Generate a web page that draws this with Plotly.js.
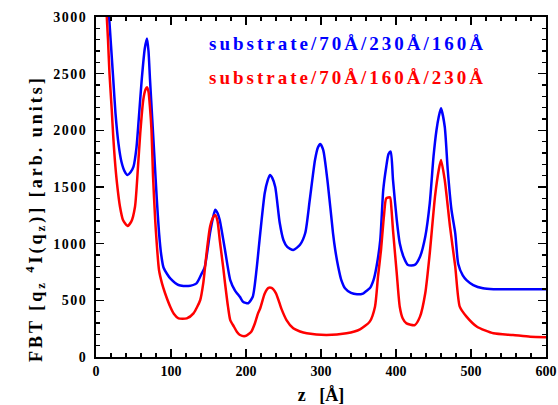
<!DOCTYPE html>
<html>
<head>
<meta charset="utf-8">
<script src="https://cdn.plot.ly/plotly-3.0.1.min.js"></script>
<style>
  html, body { margin: 0; padding: 0; background: #fff; }
  #chart { width: 558px; height: 405px; }
  .ytick text { letter-spacing: 1.5px; }
  .annotation-text { letter-spacing: 3px; }
</style>
</head>
<body>
<div id="chart"></div>
<script>
// z positions [Å] and FBT values for the two layer sequences
const zBlue = [15,17,20,23,26,30,34,38,42,46,50,54,57,61,65,68,70,72,75,78,81,84,87,90,95,99,110,123,134,141,145,152,156,159,162,165,172,179,185,192,196,203,209,214,219,225,229,232,235,239,245,250,255,263,272,279,285,292,296,299,303,309,316,319,323,327,332,340,348,356,361,365,370,374,379,383,387,390,393,396,401,405,410,416,425,432,439,445,450,454,457,460,465,469,474,479,483,489,494,503,516,530,560,600];
const fbtBlue = [3300,3050,2750,2450,2150,1880,1720,1640,1606,1630,1680,1850,2100,2450,2720,2810,2700,2450,2100,1750,1400,1100,900,790,730,694,635,626,650,738,794,1094,1230,1300,1270,1209,944,679,591,529,488,474,532,768,1094,1447,1560,1606,1580,1500,1182,1030,971,944,990,1094,1385,1738,1850,1880,1826,1535,1094,944,794,680,606,565,553,560,585,606,679,797,1032,1474,1679,1790,1812,1562,1209,1003,885,812,812,885,1062,1356,1767,2003,2120,2194,2032,1650,1297,1091,820,720,679,635,606,598,598,598];

const zRed = [12,14,16,18,21,23,25,28,32,36,42,47,52,56,59,63,66,68,70,72,74,76,79,81,84,88,92,99,104,110,121,130,139,143,145,148,152,156,159,162,165,170,172,176,179,184,188,192,199,207,212,216,219,225,230,234,240,247,254,263,272,281,307,334,352,365,372,376,380,384,387,392,394,396,401,405,409,414,425,432,439,445,452,457,460,465,472,479,485,494,508,530,556,579,600];
const fbtRed = [3400,3050,2800,2500,2180,1944,1750,1532,1326,1209,1156,1194,1326,1679,1974,2268,2360,2380,2340,2200,2000,1600,1200,1000,768,650,565,444,380,341,341,385,503,650,768,950,1147,1230,1253,1200,1032,768,653,444,326,267,220,194,185,223,300,385,430,560,610,610,562,429,326,253,225,209,194,209,244,312,444,709,944,1250,1400,1409,1300,1120,738,444,340,297,282,356,562,915,1415,1650,1738,1562,1150,797,444,356,267,209,194,179,175];

const seriesNames = ['substrate/70Å/230Å/160Å', 'substrate/70Å/160Å/230Å'];
const seriesColors = ['#0000ff', '#ff0000'];
const xTitle = 'z\u00a0\u00a0\u00a0[Å]';
const yTitle = 'FBT [q<sub>z</sub>\u00a0<sup>4</sup>I(q<sub>z</sub>)] [arb. units]';

const serif = '"Liberation Serif", "Times New Roman", serif';

const traces = [
  { x: zBlue, y: fbtBlue, mode: 'lines', name: seriesNames[0],
    line: { color: seriesColors[0], width: 2.5, shape: 'spline', smoothing: 0.6 } },
  { x: zRed, y: fbtRed, mode: 'lines', name: seriesNames[1],
    line: { color: seriesColors[1], width: 2.5, shape: 'spline', smoothing: 0.6 } }
];

const axisCommon = {
  showline: true, linecolor: '#000', linewidth: 2,
  ticks: 'inside', ticklen: 8, tickwidth: 1.5, tickcolor: '#000',
  mirror: 'allticks', showgrid: false, zeroline: false,
  tickfont: { family: serif, size: 14, color: '#000', weight: 'bold' }
};

const layout = {
  width: 558, height: 405,
  margin: { l: 96, r: 12, t: 17, b: 48 },
  paper_bgcolor: '#fff', plot_bgcolor: '#fff',
  showlegend: false,
  xaxis: Object.assign({}, axisCommon, {
    range: [0, 600], dtick: 100, tick0: 0,
    minor: { dtick: 20, ticks: 'inside', ticklen: 4, tickcolor: '#000', tickwidth: 1.3 },
    title: { text: xTitle, font: { family: serif, size: 18, color: '#000', weight: 'bold' }, standoff: 12 }
  }),
  yaxis: Object.assign({}, axisCommon, {
    range: [0, 3000], dtick: 500, tick0: 0,
    minor: { dtick: 100, ticks: 'inside', ticklen: 4, tickcolor: '#000', tickwidth: 1.3 },
    ticklabelstandoff: 4
  }),
  annotations: [
    { text: seriesNames[0], xref: 'paper', yref: 'paper', x: 0.5589, y: 0.9235,
      xanchor: 'center', yanchor: 'middle', showarrow: false,
      font: { family: serif, size: 19, color: seriesColors[0], weight: 'bold' } },
    { text: seriesNames[1], xref: 'paper', yref: 'paper', x: 0.5589, y: 0.8206,
      xanchor: 'center', yanchor: 'middle', showarrow: false,
      font: { family: serif, size: 19, color: seriesColors[1], weight: 'bold' } },
    { text: yTitle, xref: 'paper', yref: 'paper', x: -0.1333, y: 0.406,
      xanchor: 'center', yanchor: 'middle', showarrow: false, textangle: -90,
      font: { family: serif, size: 18, color: '#000', weight: 'bold' } }
  ]
};

Plotly.newPlot('chart', traces, layout, { staticPlot: true, displayModeBar: false });
</script>
</body>
</html>
